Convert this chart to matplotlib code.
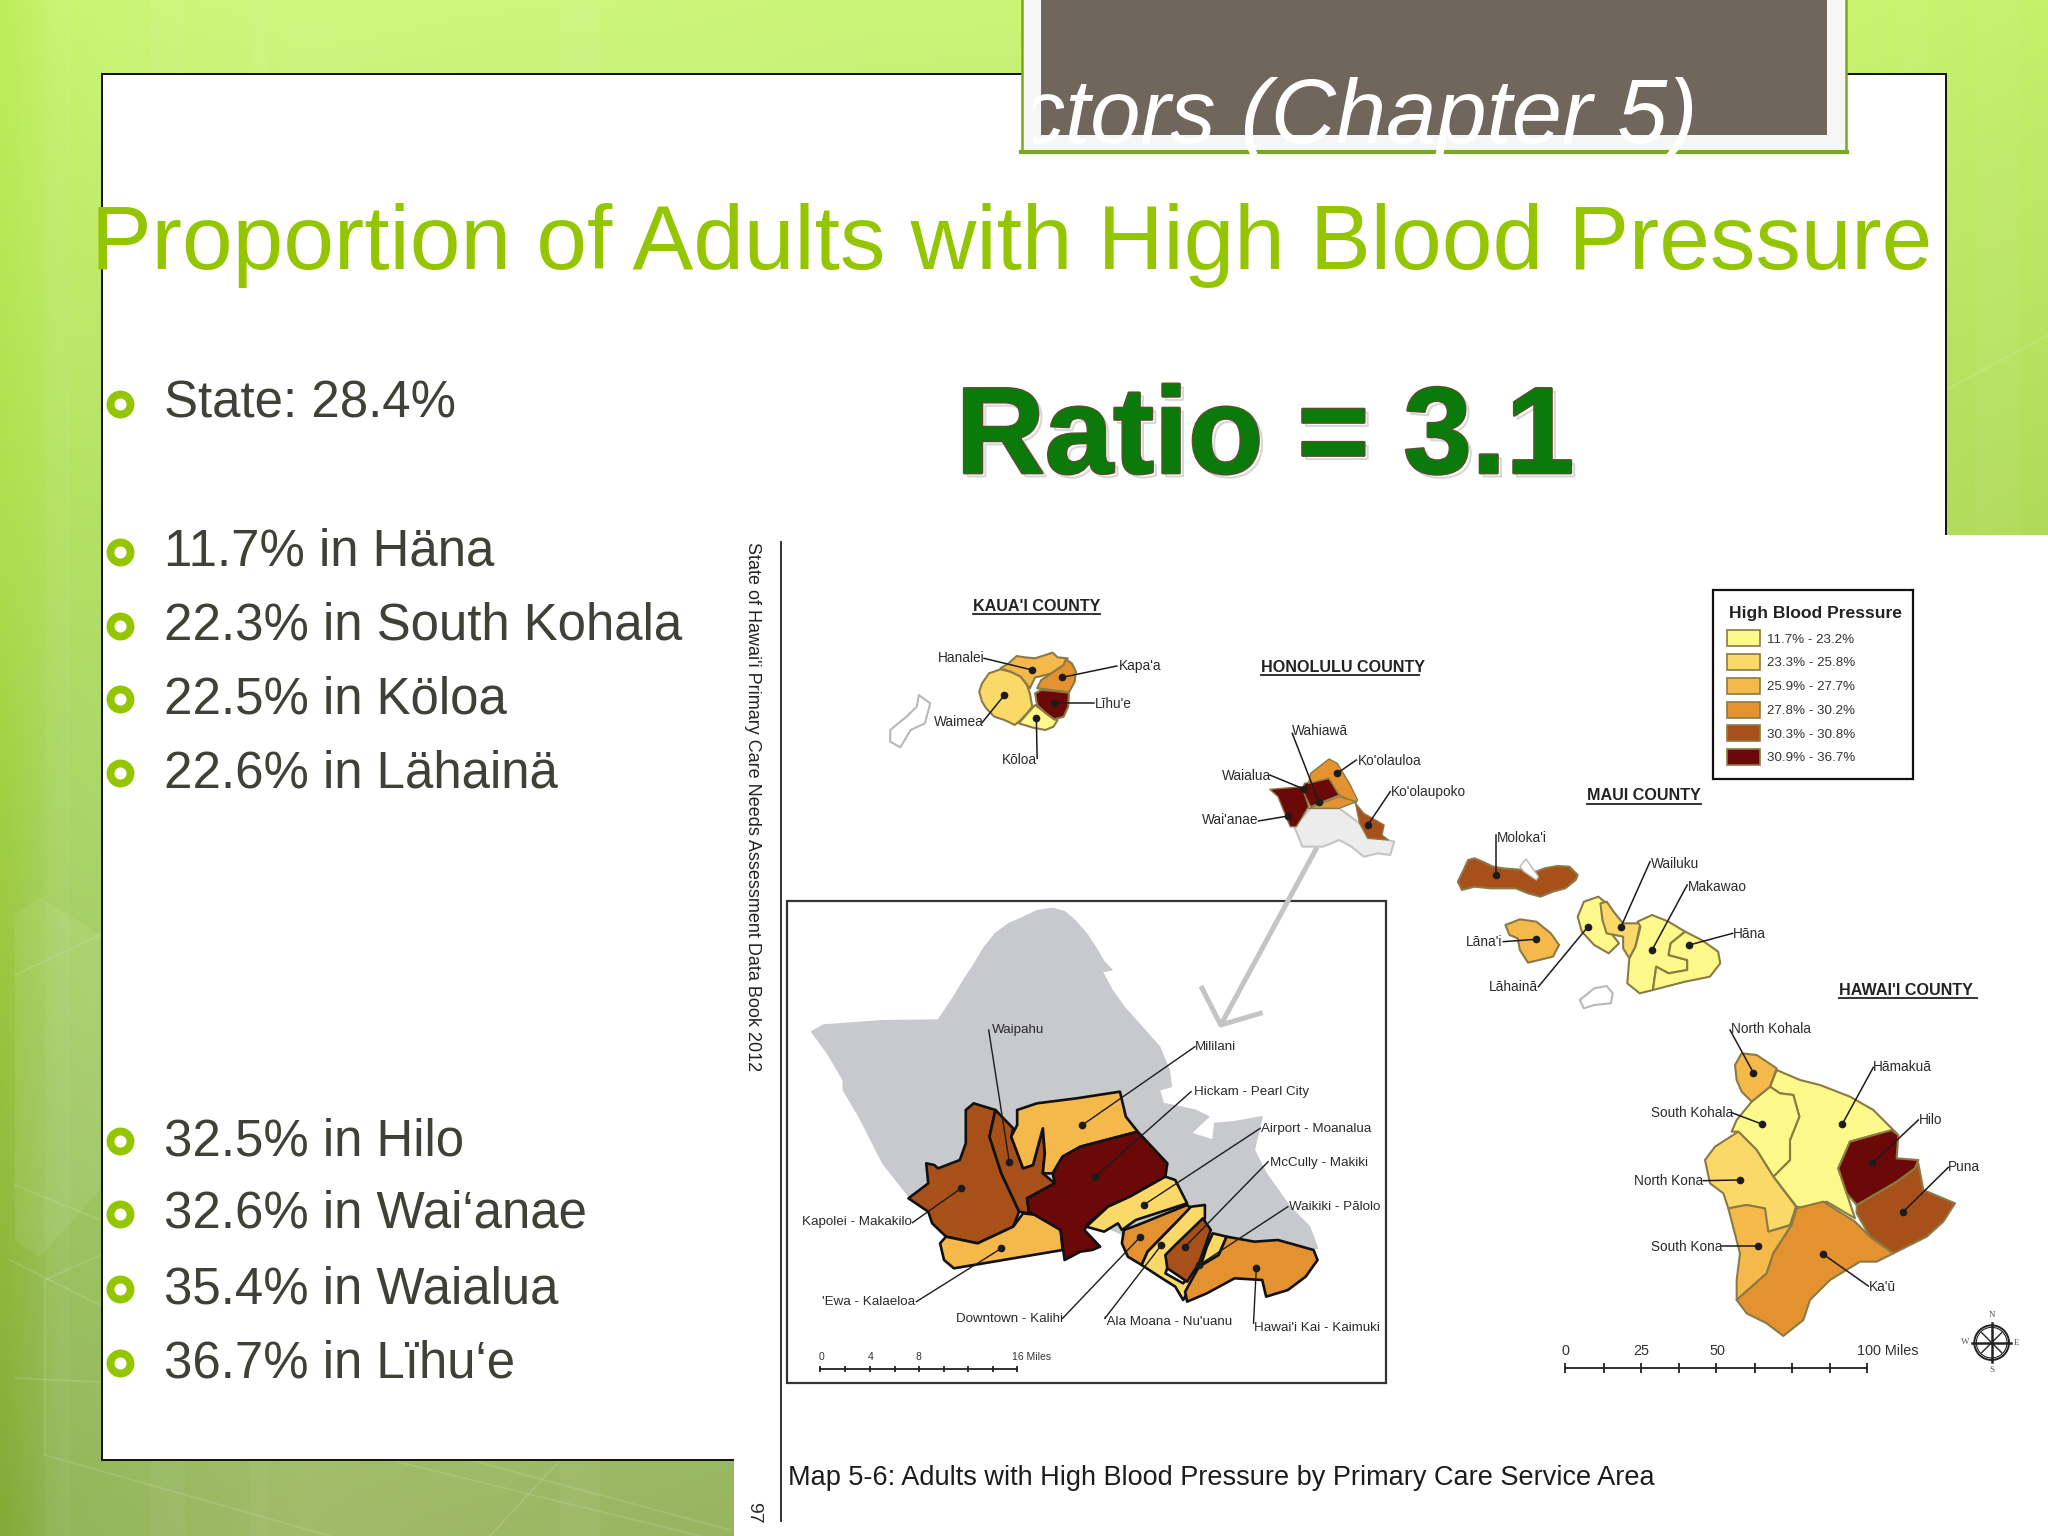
import matplotlib
matplotlib.use("Agg")
import matplotlib.pyplot as plt
import matplotlib.patheffects as pe
import numpy as np
from matplotlib.colors import to_rgb
from matplotlib.patches import Polygon, Rectangle, Circle

plt.rcParams["font.family"] = ["Liberation Sans", "DejaVu Sans"]

# class colours of the map legend
C1, C2, C3, C4, C5, C6 = "#fdf88a", "#fbd968", "#f5b84a", "#e3922f", "#a8501a", "#6b0808"
LEGEND_COLORS = [C1, C2, C3, C4, C5, C6]
LEGEND_LABELS = ["11.7% - 23.2%", "23.3% - 25.8%", "25.9% - 27.7%",
                 "27.8% - 30.2%", "30.3% - 30.8%", "30.9% - 36.7%"]

# slide text
BULLETS = ["State: 28.4%", "11.7% in Häna", "22.3% in South Kohala", "22.5% in Köloa",
           "22.6% in Lähainä", "32.5% in Hilo", "32.6% in Wai‘anae", "35.4% in Waialua",
           "36.7% in Lïhu‘e"]
BULLET_BASELINES = [418, 566, 640, 713, 787, 1155, 1228, 1303, 1377]

# background colours, sampled on a coarse grid
BG_X = [0, 60, 300, 1000, 1860, 2048]
BG_Y = [0, 500, 800, 1536]
BG_GRID = [["#bdee5c", "#c9f472", "#cff67f", "#c9f476", "#c8f470", "#c4f06a"],
           ["#aee04e", "#b4e262", "#bbe274", "#b8e070", "#b4de60", "#b0dc5a"],
           ["#a0d044", "#aad668", "#b0d86e", "#aad066", "#a8d05c", "#a4cc54"],
           ["#85a938", "#92b55a", "#a0bb6a", "#92b25c", "#90ae54", "#88a84a"]]
BG_STRIPES = [(45, 25), (150, 35), (250, 18), (560, 40), (1900, 30), (1975, 45)]
BG_HEX = [(15, 915), (40, 897), (100, 935), (100, 1190), (40, 1257), (15, 1240)]
BG_LINES = [((15, 975), (100, 935)), ((15, 1185), (100, 1220)), ((45, 1280), (100, 1255)),
            ((10, 1260), (100, 1305)), ((45, 1280), (45, 1455)), ((45, 1455), (330, 1536)),
            ((15, 1378), (100, 1382)), ((390, 1460), (700, 1536)), ((470, 1460), (730, 1530)),
            ((560, 1460), (490, 1536)), ((1946, 390), (2048, 335))]

# Kaua'i, reference crop 1
WAIMEA = [(488, 395), (495, 370), (512, 340), (540, 328), (565, 335), (590, 350), (605, 375), (612, 400),
          (618, 440), (605, 460), (590, 480), (575, 495), (550, 480), (525, 470), (505, 445), (495, 425)]
HANALEI = [(540, 325), (560, 310), (580, 288), (600, 292), (625, 295), (650, 285), (668, 278), (680, 292),
           (705, 295), (695, 315), (665, 340), (635, 350), (625, 352), (612, 385), (590, 350), (565, 335)]
KAPAA = [(700, 298), (715, 310), (725, 335), (722, 365), (708, 397), (665, 390), (630, 385), (640, 360),
         (665, 340), (695, 315)]
LIHUE = [(625, 400), (640, 390), (665, 392), (708, 398), (706, 440), (695, 470), (672, 478), (650, 458),
         (630, 435)]
KOLOA = [(625, 435), (650, 458), (672, 478), (680, 480), (670, 500), (650, 510), (620, 503), (585, 490),
         (605, 462)]
NIIHAU = [(340, 405), (368, 430), (355, 490), (320, 510), (295, 562), (270, 545), (270, 510),
          (310, 470), (335, 440)]

# small O'ahu
OAHU_SOUTH = [(1260, 800), (1300, 745), (1370, 745), (1420, 790), (1490, 840), (1505, 845),
              (1495, 885), (1465, 880), (1430, 890), (1400, 860), (1370, 840), (1330, 860), (1280, 860)]
WAIANAE = [(1200, 688), (1280, 680), (1290, 720), (1295, 740), (1265, 800), (1250, 800),
           (1230, 740), (1220, 710)]
WAHIAWA = [(1285, 670), (1345, 655), (1370, 705), (1300, 740), (1280, 690)]
KOOLAULOA = [(1300, 640), (1345, 597), (1365, 610), (1395, 670), (1415, 720), (1410, 730),
             (1370, 705), (1345, 655), (1295, 670)]
OAHU_BAND = [(1295, 745), (1370, 710), (1412, 725), (1370, 745)]
KOOLAUPOKO = [(1410, 730), (1430, 760), (1480, 795), (1475, 825), (1490, 840), (1440, 835), (1420, 790)]

CROP1_LINES = [((500, 295), (618, 330)), ((825, 318), (692, 352)), ((770, 428), (672, 428)),
               ((495, 488), (550, 405)), ((630, 595), (628, 473)), ((1255, 520), (1320, 725)),
               ((1200, 645), (1285, 688)), ((1172, 783), (1245, 768)), ((1412, 600), (1365, 640)),
               ((1495, 695), (1440, 795))]
CROP1_LABELS = [("Hanalei", 388, 295), ("Kapa'a", 830, 318), ("Līhu'e", 772, 432), ("Waimea", 378, 487),
                ("Kōloa", 543, 600), ("Wahiawā", 1255, 513), ("Ko'olauloa", 1415, 603),
                ("Waialua", 1082, 648), ("Wai'anae", 1033, 781), ("Ko'olaupoko", 1497, 695)]

# large O'ahu, reference crop 3
OAHU_GREY = [(80, 425), (110, 405), (260, 392), (400, 390), (440, 320), (465, 270), (490, 225), (515, 175),
             (545, 130), (580, 100), (610, 85), (650, 62), (690, 55), (720, 65), (745, 90), (775, 130),
             (800, 175), (820, 215), (840, 240), (815, 245), (840, 300), (870, 350), (915, 410), (960, 470),
             (985, 540), (990, 590), (960, 600), (970, 640), (1050, 660), (1085, 680), (1040, 730),
             (1095, 750), (1100, 700), (1150, 695), (1220, 680), (1200, 780), (1230, 850), (1290, 950),
             (1340, 1010), (1360, 1075), (1000, 1100), (600, 900), (330, 925), (300, 880), (260, 820),
             (200, 680), (160, 600), (160, 570), (120, 490)]
KAPOLEI = [(470, 660), (490, 640), (545, 660), (530, 740), (560, 850), (605, 965), (590, 1010),
           (500, 1060), (420, 1040), (385, 1000), (375, 965), (325, 925), (375, 880), (370, 820),
           (390, 825), (400, 835), (455, 810), (470, 760)]
WAIPAHU = [(545, 660), (590, 715), (585, 740), (615, 835), (640, 825), (665, 715), (670, 790),
           (665, 850), (695, 880), (625, 925), (630, 970), (605, 965), (560, 850), (530, 740)]
MILILANI = [(600, 660), (650, 640), (750, 625), (860, 605), (875, 680), (905, 725), (760, 770),
            (715, 800), (690, 850), (665, 850), (670, 790), (665, 715), (640, 825), (615, 835),
            (585, 740), (600, 705)]
HICKAM = [(760, 770), (905, 725), (980, 820), (975, 860), (885, 920), (830, 950), (780, 1000),
          (770, 1020), (810, 1070), (790, 1080), (760, 1085), (720, 1110), (710, 1020), (630, 965),
          (625, 925), (695, 880), (690, 850), (715, 800)]
EWA = [(420, 1040), (500, 1060), (590, 1010), (615, 970), (650, 975), (710, 1020), (715, 1080),
       (440, 1135), (415, 1110), (405, 1060)]
AIRPORT = [(975, 860), (1000, 870), (1030, 940), (900, 990), (865, 1020), (855, 1000), (820, 1025),
           (775, 1010), (830, 950), (885, 920)]
DOWNTOWN = [(870, 1020), (905, 1005), (1030, 945), (1040, 955), (1000, 1000), (930, 1085),
            (915, 1125), (880, 1100), (865, 1060)]
ALA_MOANA = [(1040, 950), (1075, 945), (1075, 985), (1000, 1070), (975, 1150), (1020, 1180),
             (1055, 1130), (1065, 1130), (1050, 1170), (1020, 1230), (1000, 1190), (960, 1160),
             (915, 1125), (930, 1085), (1000, 1000)]
MCCULLY = [(1070, 985), (1090, 1020), (1060, 1120), (1030, 1175), (980, 1135), (975, 1095), (1000, 1065)]
WAIKIKI = [(1095, 1030), (1130, 1040), (1110, 1095), (1065, 1125), (1080, 1070)]
HAWAII_KAI = [(1130, 1040), (1200, 1055), (1260, 1050), (1350, 1080), (1360, 1110), (1330, 1160),
              (1285, 1200), (1230, 1220), (1220, 1170), (1150, 1165), (1080, 1210), (1030, 1235),
              (1025, 1205), (1060, 1130), (1110, 1095)]

CROP3_LINES = [((528, 420), (580, 815)), ((1050, 470), (765, 705)), ((1040, 605), (798, 860)),
               ((1215, 715), (920, 945)), ((1235, 815), (1025, 1070)), ((1285, 950), (1060, 1125)),
               ((1198, 1300), (1205, 1135)), ((822, 1285), (965, 1065)), ((715, 1285), (912, 1040)),
               ((345, 1235), (560, 1075)), ((335, 998), (458, 895))]
CROP3_LABELS = [("Waipahu", 535, 420), ("Mililani", 1050, 470), ("Hickam - Pearl City", 1048, 606),
                ("Airport - Moanalua", 1218, 718), ("McCully - Makiki", 1240, 818),
                ("Waikiki - Pālolo", 1288, 952), ("Hawai'i Kai - Kaimuki", 1198, 1315),
                ("'Ala Moana - Nu'uanu", 820, 1295), ("Downtown - Kalihi", 445, 1287),
                ("'Ewa - Kalaeloa", 105, 1235), ("Kapolei - Makakilo", 55, 997)]
ARROW_SHAFT = [(1359, -129), (1115, 405)]
ARROW_HEAD = [(1068, 295), (1115, 405), (1215, 370)]
OAHU_SCALE_TICKS = [102, 165, 228, 290, 352, 414, 476, 538, 600]
OAHU_SCALE_LABELS = [("0", 104), ("4", 230), ("8", 349), ("16 Miles", 636)]

# Maui County, reference crop 2
MOLOKAI = [(140, 965), (150, 940), (165, 900), (180, 895), (200, 905), (225, 920), (250, 925), (300, 930),
           (330, 935), (350, 925), (380, 918), (410, 920), (430, 945), (425, 960), (400, 985), (370, 995),
           (340, 1010), (310, 1000), (280, 985), (220, 985), (180, 980), (150, 990)]
KALAUPAPA = [(290, 920), (305, 897), (335, 950), (330, 960), (300, 935)]
LANAI = [(255, 1095), (290, 1078), (330, 1085), (365, 1120), (385, 1155), (370, 1190), (310, 1208),
         (290, 1170), (285, 1135), (265, 1125)]
LAHAINA = [(430, 1070), (445, 1025), (480, 1010), (500, 1030), (490, 1080), (505, 1110), (530, 1150),
           (505, 1180), (470, 1155), (440, 1115)]
WAILUKU = [(485, 1030), (500, 1025), (520, 1060), (540, 1090), (582, 1090), (570, 1160), (555, 1195),
           (540, 1165), (540, 1130), (500, 1120), (490, 1080)]
MAKAWAO = [(575, 1085), (610, 1065), (650, 1085), (690, 1115), (655, 1150), (650, 1185), (695, 1200),
           (695, 1230), (650, 1240), (620, 1220), (612, 1290), (580, 1300), (550, 1270), (555, 1195),
           (570, 1160), (582, 1100)]
HANA = [(690, 1115), (730, 1140), (770, 1175), (775, 1210), (750, 1250), (690, 1265), (612, 1290),
        (620, 1220), (650, 1240), (695, 1230), (695, 1200), (650, 1185), (655, 1150)]
KAHOOLAWE = [(435, 1320), (470, 1285), (500, 1278), (515, 1300), (510, 1330), (470, 1335), (445, 1345)]

CROP2_LINES = [((232, 825), (232, 945)), ((605, 905), (535, 1100)), ((695, 975), (610, 1170)),
               ((805, 1120), (700, 1155)), ((250, 1145), (328, 1138)), ((335, 1280), (455, 1100))]
CROP2_LABELS = [("Moloka'i", 234, 835), ("Wailuku", 607, 912), ("Makawao", 697, 981), ("Hāna", 805, 1123),
                ("Lāna'i", 160, 1146), ("Lāhainā", 215, 1280)]

# Hawai'i County, reference crop 4
HAMAKUA = [(650, 330), (720, 360), (780, 375), (870, 410), (940, 450), (995, 505), (1010, 520), (960, 520),
           (870, 545), (835, 625), (860, 700), (885, 775), (800, 725), (740, 745), (710, 740), (640, 650),
           (690, 600), (690, 540), (718, 470), (700, 405), (660, 400), (630, 380)]
SOUTH_KOHALA = [(575, 425), (630, 380), (660, 400), (700, 405), (718, 470), (690, 540), (690, 600),
                (640, 650), (590, 570), (535, 515), (515, 515), (530, 480)]
NORTH_KOHALA = [(525, 315), (545, 280), (590, 285), (650, 325), (630, 380), (575, 425), (545, 395), (530, 360)]
NORTH_KONA = [(435, 600), (465, 560), (535, 515), (590, 570), (640, 650), (708, 740), (690, 795), (625, 815),
              (610, 770), (610, 745), (560, 735), (505, 745), (490, 700), (450, 670)]
SOUTH_KONA = [(505, 745), (560, 735), (615, 745), (625, 815), (695, 795), (640, 880), (620, 940), (530, 1020),
              (530, 960), (540, 880)]
KAU = [(710, 745), (790, 725), (885, 785), (930, 830), (1000, 880), (950, 905), (900, 905), (810, 960),
       (750, 1020), (730, 1080), (670, 1128), (620, 1090), (560, 1060), (530, 1020), (620, 940), (640, 880),
       (695, 795)]
HILO = [(870, 545), (960, 520), (995, 510), (1015, 525), (1010, 595), (1075, 600), (1065, 625), (1010, 665),
        (890, 735), (860, 700), (835, 625)]
PUNA = [(890, 735), (1010, 665), (1075, 610), (1090, 690), (1185, 730), (1150, 785), (1100, 830), (1000, 880),
        (930, 830), (890, 760)]

CROP4_LINES = [((510, 210), (580, 338)), ((940, 322), (847, 492)), ((515, 458), (605, 492)),
               ((1075, 480), (937, 610)), ((1165, 622), (1030, 755)), ((430, 662), (540, 660)),
               ((485, 858), (595, 858)), ((925, 978), (790, 883))]
CROP4_LABELS = [("North Kohala", 512, 207), ("Hāmakuā", 940, 322), ("South Kohala", 272, 458), ("Hilo", 1078, 480),
                ("Puna", 1165, 622), ("North Kona", 222, 663), ("South Kona", 272, 862), ("Ka'ū", 928, 982)]
HAWAII_SCALE_TICKS = [16, 132, 243, 358, 469, 585, 695, 810, 920]
HAWAII_SCALE_LABELS = [("0", 16), ("25", 243), ("50", 472), ("100 Miles", 982)]
COMPASS_LETTERS = [("N", 1296, 1066), ("S", 1296, 1230), ("E", 1370, 1150), ("W", 1215, 1146)]
COMPASS_ANGLES = [0, 45, 90, 135, 180, 225, 270, 315]


def crop_axes(x0, y0, w, h, sx, sy):
    # axes over one crop of the picture, so map outlines can stay in crop units
    ax = fig.add_axes([x0 / 2048, 1 - (y0 + h) / 1536, w / 2048, h / 1536], zorder=5)
    ax.set_xlim(0, w * sx)
    ax.set_ylim(h * sy, 0)
    ax.axis("off")
    return ax


def region(ax, pts, color, edge="#8a7a45", lw=1.5):
    ax.add_patch(Polygon(pts, closed=True, facecolor=color, edgecolor=edge, linewidth=lw,
                         joinstyle="round", clip_on=False))


def leaders(ax, lines, color="#1c1c1c", dot=4.5, lw=1.1):
    for start, end in lines:
        ax.plot([start[0], end[0]], [start[1], end[1]], color=color, lw=lw, clip_on=False, zorder=4)
        ax.plot([end[0]], [end[1]], "o", color=color, ms=dot, clip_on=False, zorder=4)


def labels(ax, items, size=9.8):
    for text, x, y in items:
        ax.text(x, y, text, fontsize=size, color="#2a2a2a", ha="left", va="center", zorder=6)


def county_title(ax, text, x0, x1, y, under):
    ax.text(x0, y, text, fontsize=11.6, fontweight="bold", color="#222222", ha="left", va="center")
    ax.plot([x0, x1], [under, under], color="#222222", lw=1.3, clip_on=False)


def scale_bar(ax, ticks, y, half, entries, label_y, size):
    ax.plot([ticks[0], ticks[-1]], [y, y], color="#222222", lw=1.3, clip_on=False)
    ax.vlines(ticks, y - half, y + half, color="#222222", lw=1.3)
    for text, x in entries:
        ax.text(x, label_y, text, fontsize=size, color="#333333", ha="center", va="center")


fig = plt.figure(figsize=(20.48, 15.36), dpi=100)
ax = fig.add_axes([0, 0, 1, 1])
ax.set_xlim(0, 2048)
ax.set_ylim(1536, 0)
ax.axis("off")

# slide background
grid_x = np.arange(0, 2049, 8)
grid_y = np.arange(0, 1537, 8)
bg = np.zeros((len(grid_y), len(grid_x), 3))
rgb = np.array([[to_rgb(c) for c in row] for row in BG_GRID])
for k in range(3):
    by_row = np.array([np.interp(grid_x, BG_X, rgb[i, :, k]) for i in range(len(BG_Y))])
    for j in range(len(grid_x)):
        bg[:, j, k] = np.interp(grid_y, BG_Y, by_row[:, j])
ax.imshow(bg, extent=(0, 2048, 1536, 0), aspect="auto", interpolation="bilinear", zorder=0)
for x, w in BG_STRIPES:
    ax.add_patch(Rectangle((x, 0), w, 1536, facecolor="white", alpha=0.04, edgecolor="none", zorder=0.5))
ax.add_patch(Polygon(BG_HEX, facecolor="white", alpha=0.07, edgecolor="none", zorder=0.5))
for a, b in BG_LINES:
    ax.plot([a[0], b[0]], [a[1], b[1]], color="white", alpha=0.12, lw=1.2, zorder=0.6)

# white slide panel
ax.add_patch(Rectangle((102, 74), 1844, 1386, facecolor="white", edgecolor="#101010", linewidth=1.4, zorder=1))

# title tab
ax.add_patch(Rectangle((1022, -6), 824, 158, facecolor="#f6f6f6", edgecolor="#7aa81e", linewidth=1.8, zorder=2))
ax.plot([1021, 1847], [152, 152], color="#7aa81e", lw=3, zorder=2.1)
ax.add_patch(Rectangle((1041, -6), 786, 141, facecolor="#70675c", edgecolor="none", zorder=2.2))
tab_text = ax.text(1020, 143, "ctors (Chapter 5)", fontsize=65, style="italic", color="white",
                   ha="left", va="baseline", zorder=3)
tab_text.set_clip_path(Rectangle((1033, 0), 900, 170, transform=ax.transData))
tab_text.set_clip_on(True)

ax.text(91, 269, "Proportion of Adults with High Blood Pressure", fontsize=65.5, color="#94c600",
        ha="left", va="baseline", zorder=3)

# bullets
ax.scatter([120] * len(BULLET_BASELINES), [y - 14 for y in BULLET_BASELINES], s=207, facecolor="white",
           edgecolor="#94c600", linewidth=5.7, zorder=3)
for text, y in zip(BULLETS, BULLET_BASELINES):
    ax.text(164, y, text, fontsize=36.7, color="#404038", ha="left", va="baseline", zorder=3)

ratio = ax.text(956, 473, "Ratio = 3.1", fontsize=88.5, fontweight="bold", color="#0a7a0a",
                ha="left", va="baseline", zorder=3)
ratio.set_path_effects([pe.SimpleLineShadow(offset=(2.5, -2.5), shadow_color="#b0b0b0", alpha=0.5, linewidth=1.5),
                        pe.Stroke(linewidth=2, foreground="#5a5030"), pe.Normal()])

# page of the data book pasted over the slide
ax.add_patch(Rectangle((734, 535), 1320, 1010, facecolor="white", edgecolor="none", zorder=4))
ax.plot([781, 781], [542, 1521], color="#222222", lw=1.3, zorder=4.1)
ax.text(752, 542, "State of Hawai'i Primary Care Needs Assessment Data Book 2012", rotation=270,
        fontsize=13, color="#222222", ha="center", va="top", zorder=4.1)
ax.text(754, 1513, "97", rotation=270, fontsize=14, color="#2a2a2a", ha="center", va="center", zorder=4.1)
ax.text(788, 1485, "Map 5-6: Adults with High Blood Pressure by Primary Care Service Area", fontsize=19.5,
        color="#1c1c1c", ha="left", va="baseline", zorder=4.1)

# Kaua'i and small O'ahu
crop1 = crop_axes(780, 560, 640, 420, 2.45, 3)
county_title(crop1, "KAUA'I COUNTY", 472, 785, 140, 162)
county_title(crop1, "HONOLULU COUNTY", 1178, 1566, 323, 345)
for pts, color in [(WAIMEA, C2), (HANALEI, C3), (KAPAA, C4), (KOLOA, C1), (LIHUE, C6)]:
    region(crop1, pts, color)
region(crop1, NIIHAU, "white", edge="#b8b8b8")
region(crop1, OAHU_SOUTH, "#ececec", edge="#c4c4c4")
for pts, color in [(WAIANAE, C6), (WAHIAWA, C6), (KOOLAULOA, C4), (OAHU_BAND, C4), (KOOLAUPOKO, C5)]:
    region(crop1, pts, color, lw=1)
leaders(crop1, CROP1_LINES)
labels(crop1, CROP1_LABELS)

# large O'ahu inset
crop3 = crop_axes(780, 890, 620, 500, 2.53, 3)
crop3.add_patch(Rectangle((17, 32), 1515, 1448, facecolor="white", edgecolor="#333333", linewidth=1.6, clip_on=False))
crop3.plot(*zip(*ARROW_SHAFT), color="#c4c4c4", lw=3.6, clip_on=False, solid_capstyle="butt")
crop3.plot(*zip(*ARROW_HEAD), color="#c4c4c4", lw=3.6, clip_on=False)
region(crop3, OAHU_GREY, "#c8c9cc", edge="#c8c9cc", lw=1)
for pts, color in [(KAPOLEI, C5), (WAIPAHU, C5), (MILILANI, C3), (EWA, C3), (HICKAM, C6), (AIRPORT, C2),
                   (DOWNTOWN, C4), (ALA_MOANA, C2), (MCCULLY, C5), (WAIKIKI, C2), (HAWAII_KAI, C4)]:
    region(crop3, pts, color, edge="#111111", lw=1.9)
leaders(crop3, CROP3_LINES, lw=1)
labels(crop3, CROP3_LABELS, size=9.6)
scale_bar(crop3, OAHU_SCALE_TICKS, 1438, 9, OAHU_SCALE_LABELS, 1400, 7.5)

# Maui County and legend
crop2 = crop_axes(1400, 560, 648, 460, 2.42, 3)
crop2.add_patch(Rectangle((758, 90), 484, 568, facecolor="white", edgecolor="#111111", linewidth=1.6))
crop2.text(795, 162, "High Blood Pressure", fontsize=12.6, fontweight="bold", color="#222222", ha="left", va="center")
for i, (color, text) in enumerate(zip(LEGEND_COLORS, LEGEND_LABELS)):
    y = 235 + 71.2 * i
    crop2.add_patch(Rectangle((791, y - 24), 79, 48, facecolor=color, edgecolor="#8a7a45", linewidth=1.2))
    crop2.text(888, y + 4, text, fontsize=9.6, color="#333333", ha="left", va="center")
county_title(crop2, "MAUI COUNTY", 452, 728, 708, 733)
for pts, color in [(MOLOKAI, C5), (LANAI, C3), (LAHAINA, C1), (WAILUKU, C2), (MAKAWAO, C1), (HANA, C1)]:
    region(crop2, pts, color)
region(crop2, KALAUPAPA, "white", edge="#b8b8b8", lw=1)
region(crop2, KAHOOLAWE, "white", edge="#b8b8b8", lw=1.5)
leaders(crop2, CROP2_LINES)
labels(crop2, CROP2_LABELS)

# Hawai'i County
crop4 = crop_axes(1560, 960, 488, 440, 3, 3)
county_title(crop4, "HAWAI'I COUNTY", 838, 1250, 90, 115)
for pts, color in [(HAMAKUA, C1), (SOUTH_KOHALA, C1), (NORTH_KOHALA, C3), (NORTH_KONA, C2), (SOUTH_KONA, C3),
                   (KAU, C4), (PUNA, C5), (HILO, C6)]:
    region(crop4, pts, color)
leaders(crop4, CROP4_LINES)
labels(crop4, CROP4_LABELS)
scale_bar(crop4, HAWAII_SCALE_TICKS, 1225, 15, HAWAII_SCALE_LABELS, 1172, 10.4)

# compass rose
crop4.add_patch(Circle((1295, 1148), 52, facecolor="white", edgecolor="#222222", linewidth=1.4))
crop4.add_patch(Circle((1295, 1148), 46, facecolor="none", edgecolor="#222222", linewidth=0.8))
for angle in COMPASS_ANGLES:
    reach = 58 if angle % 90 == 0 else 42
    dx, dy = reach * np.sin(np.radians(angle)), reach * np.cos(np.radians(angle))
    crop4.plot([1295, 1295 + dx], [1148, 1148 - dy], color="#222222", lw=1.8 if angle % 90 == 0 else 1)
for text, x, y in COMPASS_LETTERS:
    crop4.text(x, y, text, fontsize=6.5, family="Liberation Serif", color="#555555", ha="center", va="center")

fig.savefig("out.png", dpi=100)
plt.close(fig)
